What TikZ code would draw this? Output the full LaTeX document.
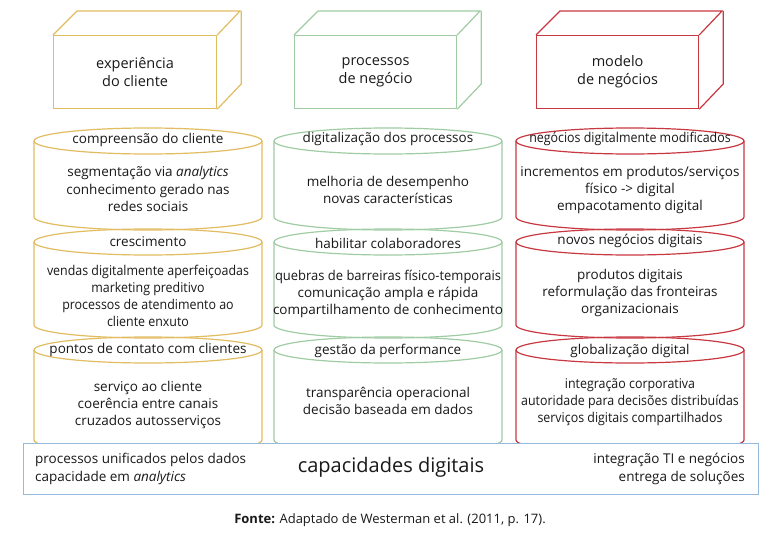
\documentclass[tikz,border=0pt]{standalone}
\usepackage{fontspec}
\setmainfont{Open Sans}
\definecolor{cgold}{RGB}{226,188,96}
\definecolor{cgreen}{RGB}{160,204,164}
\definecolor{cred}{RGB}{200,56,64}
\definecolor{cblue}{RGB}{150,186,222}
\definecolor{ctext}{RGB}{25,25,25}
\newcommand\mycyl[4]{%
  \draw[#4,line width=1.2pt] (#1,#2) ellipse [x radius=114, y radius=13];
  \draw[#4,line width=1.2pt] (#1-114,#2) -- (#1-114,#3) arc[start angle=180, end angle=0, x radius=114, y radius=13] -- (#1+114,#2);
}
\newcommand\mybox[6]{% name, x1, x2, color, line1, line2
  \node[draw=#4, line width=1.2pt, minimum width=#3-#2, minimum height=73, inner sep=0pt, anchor=north west, text=ctext, align=center, font=\fontsize{14.5}{18}\selectfont] (#1) at (#2,35) {#5\\#6};
  \draw[#4,line width=1.2pt] (#1.north west) -- ++(24,-24) -- ++(#3-#2,0) -- (#1.north east);
  \draw[#4,line width=1.2pt] ($(#1.north east)+(24,-24)$) -- ++(0,73) -- (#1.south east);
}
\newcommand\cnd[1]{\scalebox{0.92}[1]{#1}}
\usetikzlibrary{calc}
\begin{document}
\begin{tikzpicture}[x=1pt,y=-1pt,
  ttl/.style={text=ctext, font=\fontsize{13.5}{17}\selectfont, inner sep=0pt},
  bdy/.style={text=ctext, font=\fontsize{13.5}{17.2}\selectfont, align=center, inner sep=0pt}]
\useasboundingbox (0,0) rectangle (782,533);
\fill[white] (0,0) rectangle (782,533);
% cuboids
\mybox{b1}{53}{216}{cgold}{experiência}{do cliente}
\mybox{b2}{294}{456}{cgreen}{processos}{de negócio}
\mybox{b3}{536}{698}{cred}{modelo}{de negócios}
% cylinders
\mycyl{148}{141}{217}{cgold}
\mycyl{148}{242}{325}{cgold}
\mycyl{148}{350}{440}{cgold}
\mycyl{388}{141}{217}{cgreen}
\mycyl{388}{242}{325}{cgreen}
\mycyl{388}{350}{440}{cgreen}
\mycyl{630}{141}{217}{cred}
\mycyl{630}{242}{325}{cred}
\mycyl{630}{350}{440}{cred}
% column 1 texts
\node[ttl] (t11) at (148,140) {compreensão do cliente};
\node[bdy] (d11) at (148,189) {segmentação via \emph{analytics}\\conhecimento gerado nas\\redes sociais};
\node[ttl] (t12) at (148,242) {crescimento};
\node[bdy] (d12) at (148,296) {\cnd{vendas digitalmente aperfeiçoadas}\\\cnd{marketing preditivo}\\\cnd{processos de atendimento ao}\\\cnd{cliente enxuto}};
\node[ttl] (t13) at (148,350) {pontos de contato com clientes};
\node[bdy] (d13) at (148,405) {serviço ao cliente\\coerência entre canais\\cruzados autosserviços};
% column 2 texts
\node[ttl] (t21) at (388,139) {digitalização dos processos};
\node[bdy] (d21) at (388,190) {melhoria de desempenho\\novas características};
\node[ttl] (t22) at (388,243) {habilitar colaboradores};
\node[bdy] (d22) at (388,294) {\scalebox{0.96}[1]{quebras de barreiras físico-temporais}\\comunicação ampla e rápida\\compartilhamento de conhecimento};
\node[ttl] (t23) at (388,351) {gestão da performance};
\node[bdy] (d23) at (388,401) {transparência operacional\\decisão baseada em dados};
% column 3 texts
\node[ttl] (t31) at (630,139) {\cnd{negócios digitalmente modificados}};
\node[bdy] (d31) at (630,190) {incrementos em produtos/serviços\\físico -> digital\\empacotamento digital};
\node[ttl] (t32) at (630,241) {novos negócios digitais};
\node[bdy] (d32) at (630,293) {produtos digitais\\reformulação das fronteiras\\organizacionais};
\node[ttl] (t33) at (630,351) {globalização digital};
\node[bdy] (d33) at (630,402) {\cnd{integração corporativa}\\\cnd{autoridade para decisões distribuídas}\\\cnd{serviços digitais compartilhados}};
% capabilities bar
\node[draw=cblue, fill=white, line width=1.2pt, minimum width=735, minimum height=51, inner sep=0pt, anchor=north west] (cap) at (23,443) {};
\node[text=ctext, font=\fontsize{20}{24}\selectfont, inner sep=0pt] (capt) at (391,467) {capacidades digitais};
\node[bdy, align=left, anchor=west] (capl) at (35,469) {processos unificados pelos dados\\capacidade em \emph{analytics}};
\node[bdy, align=right, anchor=east] (capr) at (745,469) {integração TI e negócios\\entrega de soluções};
% caption
\node[text=ctext, font=\fontsize{13}{15}\selectfont, inner sep=0pt] (fonte) at (390,520) {\textbf{Fonte:} Adaptado de Westerman et al. (2011, p. 17).};
\end{tikzpicture}
\end{document}
